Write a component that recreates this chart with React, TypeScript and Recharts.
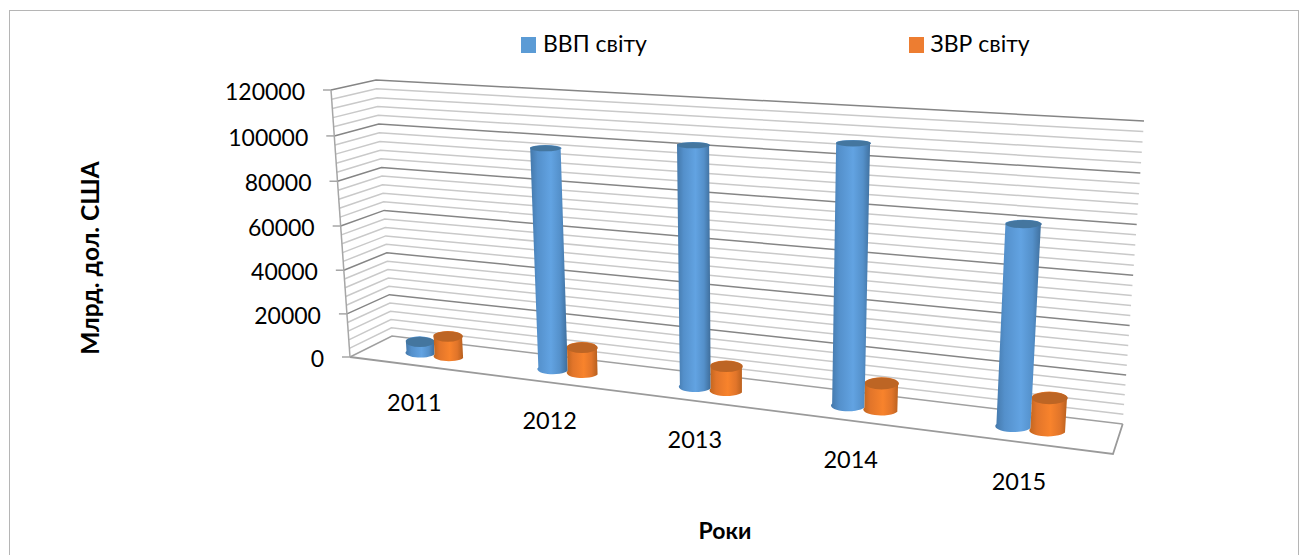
import { Bar, BarChart, CartesianGrid, Legend, XAxis, YAxis } from 'recharts';

type Pt = [number, number];

const years = ['2011', '2012', '2013', '2014', '2015'];
const gdpValues = [5100, 97600, 102900, 107700, 80900];
const reserveValues = [9200, 11350, 10600, 11100, 13200];
const majorTicks = [0, 20000, 40000, 60000, 80000, 100000, 120000];
const minorSteps = [0, 4000, 8000, 12000, 16000];
const gridValues = [...majorTicks.slice(0, -1).flatMap((m) => minorSteps.map((s) => m + s)), 120000];

const data = years.map((year, i) => ({ year, gdp: gdpValues[i], reserves: reserveValues[i] }));

const FONT = 'Lato, "Open Sans", sans-serif';
const MAX = 120000;
const CHART_W = 1305;
const CHART_H = 555;
const PLOT = { left: 350, right: 1113, top: 90, bottom: 357 };
const LEGEND_H = 30;

// the flat recharts plot is warped on to this picture's 3D box
const FRONT_LEFT: [Pt, Pt] = [[350, 357], [331, 90]];
const BACK_LEFT: [Pt, Pt] = [[392, 336], [376, 80]];
const BACK_RIGHT: [Pt, Pt] = [[1122.7, 424], [1144, 121]];
const FLOOR_FRONT_RIGHT: Pt = [1113, 454];
const BAR_PLANE: [Pt, Pt, Pt, Pt] = [[371, 346.5], [1118, 439], [1139, 127], [353.5, 85]];

const edge = ([a, b]: [Pt, Pt], v: number): Pt => {
  const h = -0.037;
  const w = 1 + h * v;
  return [(a[0] + (b[0] * (1 + h) - a[0]) * v) / w, (a[1] + (b[1] * (1 + h) - a[1]) * v) / w];
};

const warp = (t: number, v: number): Pt => {
  const [p0, p1, p2, p3] = BAR_PLANE;
  const dx1 = p1[0] - p2[0];
  const dx2 = p3[0] - p2[0];
  const sx = p0[0] - p1[0] + p2[0] - p3[0];
  const dy1 = p1[1] - p2[1];
  const dy2 = p3[1] - p2[1];
  const sy = p0[1] - p1[1] + p2[1] - p3[1];
  const den = dx1 * dy2 - dx2 * dy1;
  const g = (sx * dy2 - dx2 * sy) / den;
  const h = (dx1 * sy - sx * dy1) / den;
  const w = 1 + g * t + h * v;
  return [
    (p0[0] + (p1[0] - p0[0] + g * p1[0]) * t + (p3[0] - p0[0] + h * p3[0]) * v) / w,
    (p0[1] + (p1[1] - p0[1] + g * p1[1]) * t + (p3[1] - p0[1] + h * p3[1]) * v) / w,
  ];
};

const toT = (x: number) => (x - PLOT.left) / (PLOT.right - PLOT.left);
const toV = (y: number) => (PLOT.bottom - y) / (PLOT.bottom - PLOT.top);
const pts = (list: Pt[]) => list.map((p) => p.join(',')).join(' ');

const GridLine = (props: any) => {
  const v = toV(props.y1);
  const major = Math.abs(v * MAX) % 20000 < 1 || Math.abs(v * MAX) % 20000 > 19999;
  const stroke = major ? '#858585' : '#c9c9c9';
  const isFloor = v < 0.001;
  const isTop = v > 0.999;
  return (
    <g key={props.key}>
      <polyline
        points={pts([edge(FRONT_LEFT, v), edge(BACK_LEFT, v), edge(BACK_RIGHT, v)])}
        fill="none"
        stroke={isFloor ? '#a0a0a0' : stroke}
        strokeWidth={1.5}
      />
      {isFloor && (
        <polyline
          points={pts([FRONT_LEFT[0], FLOOR_FRONT_RIGHT, BACK_RIGHT[0]])}
          fill="none"
          stroke="#9a9a9a"
          strokeWidth={1.8}
        />
      )}
      {isTop && <line x1={331} y1={90} x2={350} y2={357} stroke="#a6a6a6" strokeWidth={1.5} />}
    </g>
  );
};

const ValueTick = ({ y, payload }: any) => {
  const [ax, ay] = edge(FRONT_LEFT, toV(y));
  return (
    <g>
      <line x1={ax - 8} y1={ay} x2={ax} y2={ay} stroke="#a6a6a6" strokeWidth={1.5} />
      <text x={ax - 26} y={ay + 1} textAnchor="end" dominantBaseline="central" fontFamily={FONT} fontSize={23} fill="#000">
        {payload.value}
      </text>
    </g>
  );
};

const YearTick = ({ x, payload }: any) => {
  const t = toT(x);
  const [px, py] = warp(t, 0);
  return (
    <text x={px - 21 + t * 11} y={py + 47 + t * 6} textAnchor="middle" dominantBaseline="central" fontFamily={FONT} fontSize={23.5} fill="#000">
      {payload.value}
    </text>
  );
};

const Cylinder = ({ x, y, width, height, grad, cap }: any) => {
  const top = toV(y);
  const base = toV(y + height);
  // the columns hardly grow towards the near side, so narrow them around their category
  const tA = toT(x);
  const tB = toT(x + width);
  const centre = (Math.floor(((tA + tB) / 2) * years.length) + 0.5) / years.length;
  const squeeze = 1 - 0.12 * centre;
  const t0 = centre + (tA - centre) * squeeze;
  const t1 = centre + (tB - centre) * squeeze;
  const tl = warp(t0, top);
  const tr = warp(t1, top);
  const bl = warp(t0, base);
  const br = warp(t1, base);
  const rxTop = (tr[0] - tl[0]) / 2;
  const ryTop = rxTop * (0.38 - 0.22 * top);
  const rxBase = (br[0] - bl[0]) / 2;
  const ryBase = rxBase * 0.33;
  const d = `M${bl.join(',')} L${tl.join(',')} A${rxTop},${ryTop} 0 0 1 ${tr.join(',')} L${br.join(',')} A${rxBase},${ryBase} 0 0 1 ${bl.join(',')} Z`;
  return (
    <g>
      <path d={d} fill={`url(#${grad})`} />
      <ellipse cx={(tl[0] + tr[0]) / 2} cy={(tl[1] + tr[1]) / 2} rx={rxTop} ry={ryTop} fill={cap} />
    </g>
  );
};

const legendItems = [
  { label: 'ВВП світу', color: '#5b9bd5', left: 521 },
  { label: 'ЗВР світу', color: '#ed7d31', left: 908.5 },
];

const LegendContent = () => (
  <div style={{ position: 'relative', width: CHART_W, height: LEGEND_H }}>
    {legendItems.map((item) => (
      <div key={item.label}>
        <span style={{ position: 'absolute', left: item.left, top: 9, width: 15, height: 15.5, background: item.color }} />
        <span style={{ position: 'absolute', left: item.left + 22, top: 0, fontFamily: FONT, fontSize: 23, lineHeight: '30px', color: '#000', whiteSpace: 'nowrap' }}>
          {item.label}
        </span>
      </div>
    ))}
  </div>
);

const App = () => {
  return (
    <div style={{ position: 'absolute', left: 0, top: 0, width: CHART_W, height: CHART_H, overflow: 'hidden', background: '#fff' }}>
      <div style={{ position: 'absolute', left: 8.5, top: 9.5, width: 1288, height: 600, border: '1.5px solid #b5b5b5' }} />
      <BarChart
        width={CHART_W}
        height={CHART_H}
        data={data}
        barCategoryGap="28%"
        barGap={0}
        margin={{ top: PLOT.top - LEGEND_H, right: CHART_W - PLOT.right, bottom: CHART_H - PLOT.bottom - 30, left: 0 }}
        style={{ position: 'absolute', left: 0, top: 0 }}
      >
        <defs>
          <linearGradient id="blueCyl" x1="0" y1="0" x2="1" y2="0">
            <stop offset="0" stopColor="#4478aa" />
            <stop offset="0.2" stopColor="#5490cb" />
            <stop offset="0.55" stopColor="#62a3e2" />
            <stop offset="0.8" stopColor="#5490ca" />
            <stop offset="1" stopColor="#3e6d9a" />
          </linearGradient>
          <linearGradient id="orangeCyl" x1="0" y1="0" x2="1" y2="0">
            <stop offset="0" stopColor="#c0651f" />
            <stop offset="0.2" stopColor="#e2752a" />
            <stop offset="0.55" stopColor="#f8832c" />
            <stop offset="0.8" stopColor="#e1752a" />
            <stop offset="1" stopColor="#b65f1e" />
          </linearGradient>
        </defs>
        <CartesianGrid vertical={false} horizontal={GridLine} horizontalValues={gridValues} />
        <XAxis
          dataKey="year"
          height={30}
          axisLine={false}
          tickLine={false}
          interval={0}
          tick={YearTick}
          label={{
            content: () => (
              <text x={725} y={530} textAnchor="middle" dominantBaseline="central" fontFamily={FONT} fontSize={23} fontWeight={700} fill="#000">
                Роки
              </text>
            ),
          }}
        />
        <YAxis
          width={PLOT.left}
          domain={[0, MAX]}
          ticks={majorTicks}
          interval={0}
          axisLine={false}
          tickLine={false}
          tick={ValueTick}
          label={{
            content: () => (
              <text transform="translate(89,258) rotate(-90)" textAnchor="middle" dominantBaseline="central" fontFamily={FONT} fontSize={24.5} fontWeight={700} fill="#000">
                Млрд. дол. США
              </text>
            ),
          }}
        />
        <Legend
          verticalAlign="top"
          align="left"
          content={LegendContent}
          wrapperStyle={{ left: 0, top: 28, width: CHART_W, height: LEGEND_H }}
        />
        <Bar
          dataKey="gdp"
          name="ВВП світу"
          fill="#5b9bd5"
          isAnimationActive={false}
          shape={(p: any) => <Cylinder {...p} grad="blueCyl" cap="#44769f" />}
        />
        <Bar
          dataKey="reserves"
          name="ЗВР світу"
          fill="#ed7d31"
          isAnimationActive={false}
          shape={(p: any) => <Cylinder {...p} grad="orangeCyl" cap="#bd6524" />}
        />
      </BarChart>
    </div>
  );
};

export default App;
